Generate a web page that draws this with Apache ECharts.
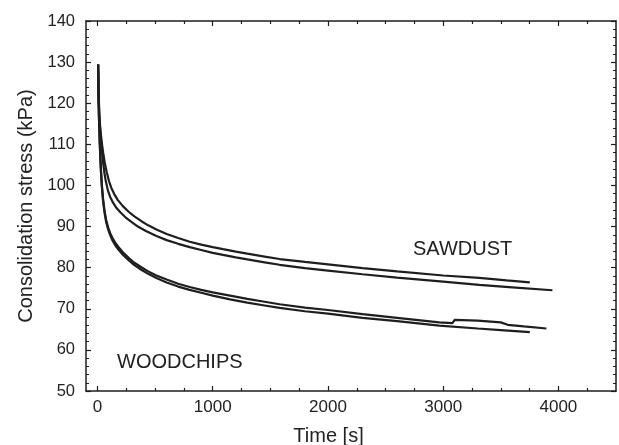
<!DOCTYPE html>
<html>
<head>
<meta charset="utf-8">
<script src="https://cdn.jsdelivr.net/npm/echarts@6/dist/echarts.min.js"></script>
<style>
  html, body { margin: 0; padding: 0; background: #fff; }
  #chart { width: 619px; height: 445px; }
</style>
</head>
<body>
<div id="chart"></div>
<script>
// time [s] and stress [kPa]
var sawdustUpperT = [5, 10, 15, 22, 30, 40, 50, 65, 80, 100, 120, 145, 175, 222, 270, 320, 381, 440, 511, 600, 700, 800, 900, 1000, 1089, 1200, 1300, 1450, 1580, 1800, 2000, 2300, 2600, 3000, 3313, 3550, 3752];
var sawdustUpperP = [129.4, 122, 118, 114.6, 112.2, 109.8, 107.8, 105.2, 103.2, 101.0, 99.4, 97.9, 96.5, 94.9, 93.6, 92.5, 91.3, 90.3, 89.3, 88.2, 87.2, 86.3, 85.6, 85.0, 84.5, 83.9, 83.4, 82.7, 82.1, 81.4, 80.8, 79.9, 79.1, 78.1, 77.5, 76.9, 76.4];

var sawdustLowerT = [5, 10, 15, 22, 30, 40, 50, 60, 72, 90, 110, 135, 165, 200, 245, 300, 350, 420, 511, 600, 700, 800, 900, 1000, 1089, 1200, 1300, 1450, 1580, 1800, 2000, 2300, 2600, 3000, 3313, 3600, 3948];
var sawdustLowerP = [129.4, 121, 117, 113.5, 110.8, 107.8, 105.2, 103.0, 101.0, 98.8, 97.2, 95.8, 94.5, 93.4, 92.2, 91.0, 90.0, 88.9, 87.7, 86.7, 85.8, 85.0, 84.3, 83.6, 83.1, 82.5, 82.0, 81.3, 80.7, 79.9, 79.3, 78.4, 77.6, 76.6, 75.8, 75.2, 74.5];

var woodUpperT = [5, 8, 12, 18, 24, 30, 38, 48, 60, 75, 92, 110, 130, 155, 185, 222, 270, 320, 380, 440, 511, 600, 700, 800, 900, 1000, 1150, 1300, 1450, 1580, 1800, 2000, 2300, 2600, 2966, 3080, 3100, 3300, 3500, 3560, 3700, 3896];
var woodUpperP = [129.4, 123, 117, 111.5, 107, 103.5, 100, 96.8, 94.0, 91.6, 89.8, 88.4, 87.2, 86.0, 84.9, 83.7, 82.4, 81.2, 80.1, 79.1, 78.1, 77.1, 76.1, 75.3, 74.6, 74.0, 73.2, 72.4, 71.7, 71.1, 70.3, 69.7, 68.7, 67.8, 66.7, 66.5, 67.3, 67.1, 66.7, 66.1, 65.7, 65.2];

var woodLowerT = [5, 8, 12, 18, 24, 30, 38, 48, 60, 75, 92, 110, 130, 155, 185, 222, 270, 320, 380, 440, 511, 600, 700, 800, 900, 1000, 1150, 1300, 1450, 1580, 1800, 2000, 2300, 2600, 2966, 3300, 3500, 3752];
var woodLowerP = [129.4, 123, 117, 111.5, 107, 103.3, 99.6, 96.3, 93.5, 91.1, 89.3, 87.9, 86.6, 85.4, 84.3, 83.1, 81.8, 80.6, 79.5, 78.5, 77.5, 76.4, 75.4, 74.6, 73.9, 73.2, 72.3, 71.5, 70.8, 70.2, 69.4, 68.8, 67.8, 67.0, 65.9, 65.2, 64.8, 64.3];

var xMajor = [0, 1000, 2000, 3000, 4000];
var xMinor = [250, 500, 750, 1250, 1500, 1750, 2250, 2500, 2750, 3250, 3500, 3750, 4250];

function pairs(t, p) {
  return t.map(function (v, i) { return [v, p[i]]; });
}

var ink = '#1e1e1e';
var chart = echarts.init(document.getElementById('chart'));

function xAx(pos, ticks, len, labels, line) {
  return {
    type: 'value', position: pos, min: -100, max: 4500,
    axisLine: { show: line, onZero: false, lineStyle: { color: ink, width: 1.5 } },
    axisTick: { show: true, inside: true, length: len, customValues: ticks, lineStyle: { color: ink, width: 1.2 } },
    axisLabel: labels ? {
      show: true, customValues: ticks, fontFamily: 'Liberation Sans', fontSize: 17, color: '#222', margin: 8,
      formatter: function (v) { return String(v); }
    } : { show: false },
    splitLine: { show: false }
  };
}

function yAx(pos, labels) {
  return {
    type: 'value', position: pos, min: 50, max: 140, interval: 10,
    axisLine: { show: true, onZero: false, lineStyle: { color: ink, width: 1.5 } },
    axisTick: { show: true, inside: true, length: 5, lineStyle: { color: ink, width: 1.2 } },
    minorTick: { show: true, splitNumber: 5, length: 3, lineStyle: { color: ink, width: 1 } },
    axisLabel: labels ? { show: true, fontFamily: 'Liberation Sans', fontSize: 16.5, color: '#222', margin: 11 } : { show: false },
    splitLine: { show: false }
  };
}

var xMain = xAx('bottom', xMajor, 5, true, true);
xMain.name = 'Time [s]';
xMain.nameLocation = 'middle';
xMain.nameGap = 35;
xMain.nameTextStyle = { fontFamily: 'Liberation Sans', fontSize: 20, color: '#222', padding: [0, 45, 0, 0] };

var yMain = yAx('left', true);
yMain.name = 'Consolidation stress (kPa)';
yMain.nameLocation = 'middle';
yMain.nameGap = 48;
yMain.nameTextStyle = { fontFamily: 'Liberation Sans', fontSize: 20, color: '#222' };

function line(name, t, p) {
  return {
    name: name, type: 'line', xAxisIndex: 0, yAxisIndex: 0,
    data: pairs(t, p), showSymbol: false,
    lineStyle: { color: ink, width: 2.2 }, animation: false
  };
}

chart.setOption({
  animation: false,
  grid: { left: 86, top: 21, right: 3, bottom: 54, containLabel: false, outerBoundsMode: 'none' },
  xAxis: [
    xMain,
    xAx('bottom', xMinor, 3, false, false),
    xAx('top', xMajor, 5, false, true),
    xAx('top', xMinor, 3, false, false)
  ],
  yAxis: [yMain, yAx('right', false)],
  series: [
    line('Sawdust 1', sawdustUpperT, sawdustUpperP),
    line('Sawdust 2', sawdustLowerT, sawdustLowerP),
    line('Woodchips 1', woodUpperT, woodUpperP),
    line('Woodchips 2', woodLowerT, woodLowerP)
  ],
  graphic: [
    { type: 'text', left: 413, top: 239, style: { text: 'SAWDUST', font: '20px "Liberation Sans"', fill: '#222' } },
    { type: 'text', left: 117, top: 352, style: { text: 'WOODCHIPS', font: '20px "Liberation Sans"', fill: '#222' } }
  ]
});
</script>
</body>
</html>
